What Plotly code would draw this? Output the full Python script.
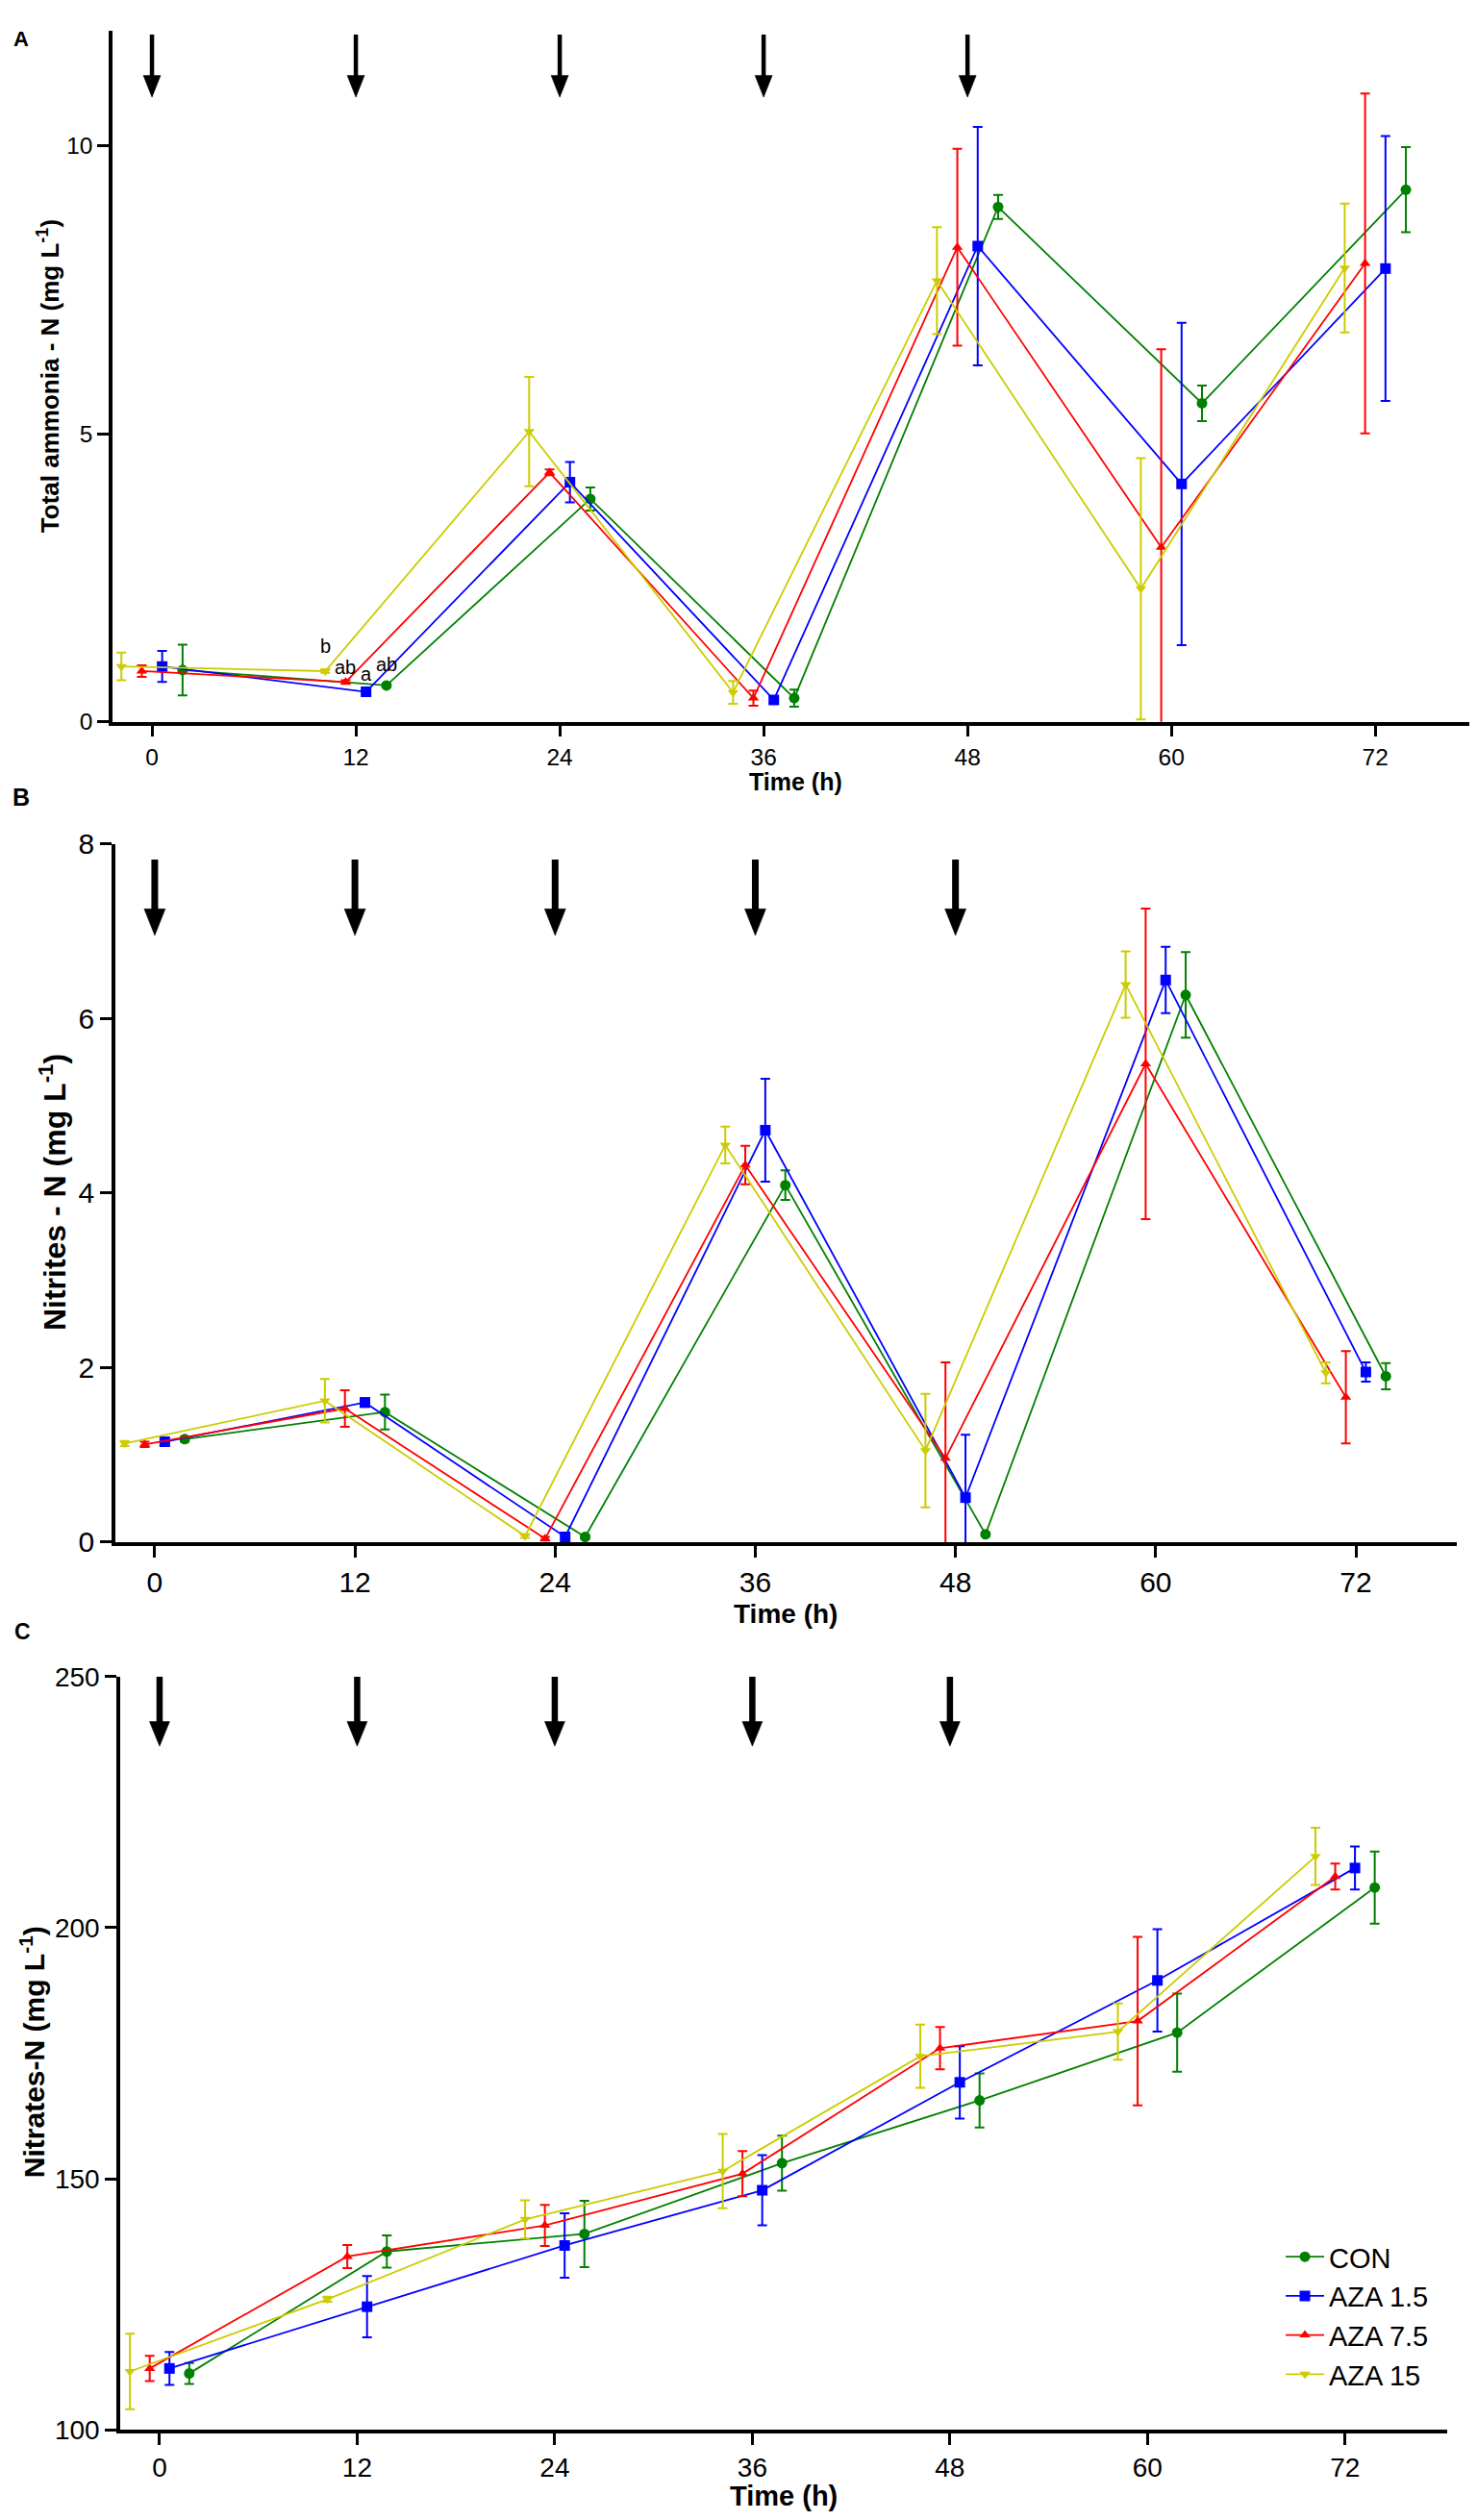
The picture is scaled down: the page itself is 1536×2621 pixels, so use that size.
import plotly.graph_objects as go

# sampling times (h) and dosing times (arrows)
times = [0, 12, 24, 36, 48, 60, 72]
dose_times = [0, 12, 24, 36, 48]

groups = ["CON", "AZA 1.5", "AZA 7.5", "AZA 15"]

# A - total ammonia-N (mg/L), mean and error
ammonia_con = [0.90, 0.63, 3.87, 0.41, 8.94, 5.53, 9.24]
ammonia_con_err = [0.44, 0.03, 0.20, 0.15, 0.21, 0.31, 0.74]
ammonia_aza15 = [0.96, 0.52, 4.16, 0.38, 8.26, 4.13, 7.87]
ammonia_aza15_err = [0.27, 0.03, 0.35, 0.05, 2.07, 2.80, 2.30]
ammonia_aza75 = [0.88, 0.69, 4.33, 0.41, 8.24, 3.03, 7.96]
ammonia_aza75_err = [0.10, 0.03, 0.05, 0.13, 1.71, 3.44, 2.95]
ammonia_aza150 = [0.96, 0.88, 5.04, 0.51, 7.66, 2.31, 7.88]
ammonia_aza150_err = [0.24, 0.03, 0.95, 0.20, 0.93, 2.27, 1.12]

# significance letters at 12 h (CON, AZA 1.5, AZA 7.5, AZA 15)
letters_12h = ["ab", "a", "ab", "b"]

# B - nitrites-N (mg/L)
nitrite_con = [1.18, 1.49, 0.06, 4.09, 0.09, 6.27, 1.90]
nitrite_con_err = [0.03, 0.20, 0.02, 0.17, 0.02, 0.49, 0.15]
nitrite_aza15 = [1.15, 1.60, 0.06, 4.72, 0.51, 6.44, 1.95]
nitrite_aza15_err = [0.03, 0.05, 0.02, 0.59, 0.72, 0.38, 0.11]
nitrite_aza75 = [1.12, 1.53, 0.04, 4.32, 0.96, 5.48, 1.66]
nitrite_aza75_err = [0.03, 0.21, 0.02, 0.22, 1.10, 1.78, 0.53]
nitrite_aza150 = [1.13, 1.62, 0.07, 4.55, 1.05, 6.39, 1.94]
nitrite_aza150_err = [0.03, 0.25, 0.02, 0.21, 0.65, 0.38, 0.12]

# C - nitrates-N (mg/L)
nitrate_con = [111.2, 135.5, 139.0, 153.1, 165.6, 179.1, 208.0]
nitrate_con_err = [2.1, 3.2, 6.6, 5.5, 5.4, 7.8, 7.2]
nitrate_aza15 = [112.2, 124.5, 136.7, 147.7, 169.2, 189.5, 211.9]
nitrate_aza15_err = [3.3, 6.1, 6.4, 7.0, 7.2, 10.2, 4.3]
nitrate_aza75 = [112.2, 134.5, 140.7, 151.0, 176.0, 181.4, 210.2]
nitrate_aza75_err = [2.5, 2.3, 4.1, 4.5, 4.2, 16.8, 2.6]
nitrate_aza150 = [111.6, 126.0, 141.9, 151.5, 174.4, 179.3, 214.2]
nitrate_aza150_err = [7.5, 0.5, 3.8, 7.4, 6.3, 5.6, 5.7]

# style per group: colour, symbol, horizontal nudge (h) so bars don't overlap
style = {
    "CON": {"color": "#008000", "symbol": "circle", "nudge": 1.8, "size": 11},
    "AZA 1.5": {"color": "#0000FF", "symbol": "square", "nudge": 0.6, "size": 11},
    "AZA 7.5": {"color": "#FF0000", "symbol": "triangle-up", "nudge": -0.6, "size": 10},
    "AZA 15": {"color": "#CCCC00", "symbol": "triangle-down", "nudge": -1.8, "size": 10},
}

panels = [
    ("x", "y", [ammonia_con, ammonia_aza15, ammonia_aza75, ammonia_aza150],
     [ammonia_con_err, ammonia_aza15_err, ammonia_aza75_err, ammonia_aza150_err]),
    ("x2", "y2", [nitrite_con, nitrite_aza15, nitrite_aza75, nitrite_aza150],
     [nitrite_con_err, nitrite_aza15_err, nitrite_aza75_err, nitrite_aza150_err]),
    ("x3", "y3", [nitrate_con, nitrate_aza15, nitrate_aza75, nitrate_aza150],
     [nitrate_con_err, nitrate_aza15_err, nitrate_aza75_err, nitrate_aza150_err]),
]

fig = go.Figure()

for xa, ya, means, errs in panels:
    for name, m, e in zip(groups, means, errs):
        st = style[name]
        fig.add_trace(
            go.Scatter(
                x=[t + st["nudge"] for t in times],
                y=m,
                error_y=dict(type="data", array=e, color=st["color"], thickness=2, width=5),
                mode="lines+markers",
                line=dict(color=st["color"], width=1.8),
                marker=dict(symbol=st["symbol"], size=st["size"], color=st["color"]),
                name=name,
                showlegend=(xa == "x3"),
                xaxis=xa,
                yaxis=ya,
            )
        )

SANS = "Liberation Sans, Arial, sans-serif"

axis_common = dict(
    showline=True, linecolor="black", linewidth=3.5,
    ticks="outside", ticklen=12, tickwidth=3, tickcolor="black",
    showgrid=False, zeroline=False, mirror=False,
)

# x domain / range per panel (ranges padded a little left of 0 like the original)
xdom = {"x": [0.0710, 0.9961], "x2": [0.0729, 0.9811], "x3": [0.0762, 0.9746]}
xrng = {"x": [-2.32, 78.1], "x2": [-2.36, 78.05], "x3": [-2.39, 78.2]}

fig.update_layout(
    width=1536, height=2621,
    margin=dict(l=0, r=0, t=0, b=0),
    paper_bgcolor="white", plot_bgcolor="white",
    font=dict(family=SANS, color="black"),
    xaxis=dict(domain=xdom["x"], range=xrng["x"], tickvals=times,
               tickfont=dict(size=24.5), anchor="y", **axis_common),
    yaxis=dict(domain=[0.7196, 0.9973], range=[0, 12], tickvals=[0, 5, 10],
               tickfont=dict(size=24.5), anchor="x", **axis_common),
    xaxis2=dict(domain=xdom["x2"], range=xrng["x2"], tickvals=times,
                tickfont=dict(size=30), anchor="y2", **axis_common),
    yaxis2=dict(domain=[0.3899, 0.6705], range=[0, 8], tickvals=[0, 2, 4, 6, 8],
                tickfont=dict(size=30), anchor="x2", **axis_common),
    xaxis3=dict(domain=xdom["x3"], range=xrng["x3"], tickvals=times,
                tickfont=dict(size=28), anchor="y3", **axis_common),
    yaxis3=dict(domain=[0.0332, 0.3358], range=[100, 250], tickvals=[100, 150, 200, 250],
                tickfont=dict(size=28), anchor="x3", **axis_common),
    legend=dict(x=0.862, y=0.1125, xanchor="left", yanchor="top",
                font=dict(family=SANS, size=29), itemwidth=40,
                bgcolor="rgba(0,0,0,0)", tracegroupgap=0),
)

# dosing arrows drawn as shapes: shaft + filled head
# (x axis, y domain ref, top, head base, tip in domain fraction, shaft px, head width px)
arrow_cfg = [
    ("x", "y domain", 0.9945, 0.9354, 0.9038, 4.5, 18),
    ("x2", "y2 domain", 0.9776, 0.9069, 0.8688, 7.0, 22),
    ("x3", "y3 domain", 1.0, 0.9405, 0.9077, 6.5, 21),
]
shapes = []
for xr, yr, top, base, tip, shaft, headw in arrow_cfg:
    px_per_h = (xdom[xr][1] - xdom[xr][0]) * 1536 / (xrng[xr][1] - xrng[xr][0])
    hw = headw / 2 / px_per_h
    for t in dose_times:
        shapes.append(dict(type="line", xref=xr, yref=yr, x0=t, x1=t, y0=top, y1=base - 0.005,
                           line=dict(color="black", width=shaft)))
        shapes.append(dict(type="path", xref=xr, yref=yr,
                           path=f"M {t - hw},{base} L {t + hw},{base} L {t},{tip} Z",
                           fillcolor="black", line=dict(color="black", width=0.5)))

ann = []

# letters above the 12 h points in panel A
letter_shift = [22, 19, 15, 26]
for name, m, lt, dy in zip(groups, [ammonia_con, ammonia_aza15, ammonia_aza75, ammonia_aza150],
                           letters_12h, letter_shift):
    ann.append(dict(
        x=times[1] + style[name]["nudge"], y=m[1], xref="x", yref="y",
        text=lt, showarrow=False, yshift=dy,
        font=dict(family=SANS, size=20, color="black"),
    ))

# axis titles and panel letters (bold through font weight)
def label(text, x, y, size, angle=0):
    return dict(x=x, y=y, xref="paper", yref="paper", text=text, showarrow=False,
                textangle=angle, xanchor="center", yanchor="middle",
                font=dict(family=SANS, size=size, color="black", weight="bold"))

ann += [
    label("Total ammonia - N (mg L<sup>-1</sup>)", 0.0273, 0.8585, 26, -90),
    label("Time (h)", 0.5335, 0.6955, 25),
    label("Nitrites - N (mg L<sup>-1</sup>)", 0.0303, 0.5303, 32, -90),
    label("Time (h)", 0.5267, 0.3609, 28),
    label("Nitrates-N (mg L<sup>-1</sup>)", 0.0169, 0.185, 30, -90),
    label("Time (h)", 0.5254, 0.0065, 29),
    label("A", 0.0091, 0.9939, 22),
    label("B", 0.0094, 0.6894, 25),
    label("C", 0.0098, 0.3541, 23),
]

fig.update_layout(annotations=ann, shapes=shapes)

fig.write_html("out.html")
